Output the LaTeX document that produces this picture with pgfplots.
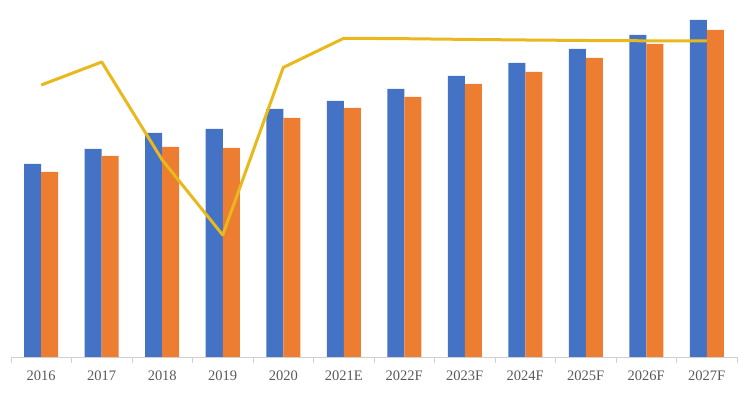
\documentclass[border=0pt]{standalone}
\usepackage{pgfplots}
\pgfplotsset{compat=1.18}
\usepackage{fontspec}
\setmainfont{Liberation Serif}
\definecolor{cblue}{HTML}{4472C4}
\definecolor{corange}{HTML}{ED7D31}
\definecolor{cgold}{HTML}{E8B81C}
\definecolor{cgrid}{HTML}{D0D0D0}
\definecolor{ctext}{HTML}{595959}
\begin{document}
\begin{tikzpicture}[x=1pt,y=1pt]
\begin{axis}[
  scale only axis,
  width=726pt, height=357pt,
  xmin=-0.5, xmax=11.5,
  ymin=0, ymax=357,
  axis x line*=bottom,
  axis y line=none,
  axis line style={cgrid, line width=0.8pt},
  xtick={0,...,11},
  xticklabels={2016,2017,2018,2019,2020,2021E,2022F,2023F,2024F,2025F,2026F,2027F},
  major tick length=0pt,
  minor xtick={-0.5,0.5,...,11.5},
  minor tick length=6pt,
  tick align=outside,
  minor tick style={cgrid, line width=0.8pt},
  tick label style={font=\fontsize{14.5}{16}\selectfont, text=ctext},
  xticklabel style={yshift=-10pt},
  clip=false,
]
\addplot[ybar, bar width=17pt, bar shift=-8.5pt, fill=cblue, draw=none]
  coordinates {(0,193) (1,208) (2,224) (3,228) (4,248) (5,256) (6,268) (7,281) (8,294) (9,308) (10,322) (11,337)};
\addplot[ybar, bar width=17pt, bar shift=8.5pt, fill=corange, draw=none]
  coordinates {(0,185) (1,201) (2,210) (3,209) (4,239) (5,249) (6,260) (7,273) (8,285) (9,299) (10,313) (11,327)};
\addplot[sharp plot, cgold, line width=3pt, mark=none, line join=round]
  coordinates {(0,272) (1,295) (2,197) (3,122) (4,289.5) (5,318.7) (6,318.3) (7,317.6) (8,317) (9,316.5) (10,316.2) (11,316)};
\end{axis}
\pgfresetboundingbox
\path (-11pt,-38pt) rectangle (737pt,357pt);
\end{tikzpicture}
\end{document}
